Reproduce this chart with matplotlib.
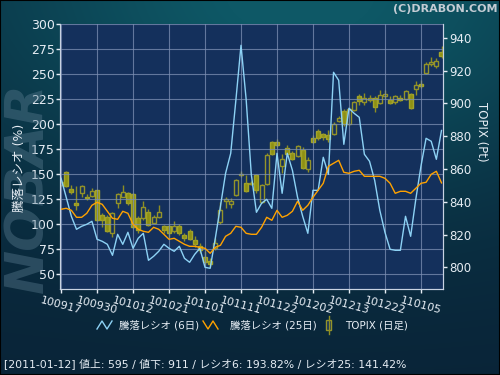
import numpy as np
import matplotlib
matplotlib.use('Agg')
import matplotlib.pyplot as plt
from matplotlib.lines import Line2D
from matplotlib.patches import Rectangle

plt.rcParams['font.family'] = ['DejaVu Sans', 'Noto Sans CJK JP']

# ---------------- data ----------------
tick_labels = ['100917', '100930', '101012', '101021', '101101', '101111',
               '101122', '101202', '101213', '101222', '110105']
tick_index = [0, 7, 14, 21, 28, 35, 42, 49, 56, 63, 70]

ratio6 = [146, 127, 108, 95, 98, 100, 103, 85, 83, 80, 69, 90, 80, 92, 76,
          86, 91, 64, 68, 73, 80, 76, 73, 78, 66, 62, 70, 76, 57, 56,
          86, 118, 151, 171, 224, 279, 225, 150, 112, 121, 125, 116, 171, 131, 171,
          154, 127, 108, 91, 134, 134, 167, 150, 252, 244, 180, 216, 211, 207, 170,
          163, 144, 114, 92, 75, 74, 74, 108, 88, 125, 158, 186, 183, 165, 193.82]

ratio25 = [115, 116, 114, 107, 107, 111, 119, 122, 120, 113, 106, 105, 113, 111, 100,
           95, 93, 92, 97, 95, 90, 85, 86, 83, 80, 78, 78, 77, 76, 71,
           77, 79, 88, 91, 98, 97, 91, 90, 90, 97, 107, 104, 114, 107, 109,
           113, 123, 114, 119, 127, 134, 141, 158, 161, 164, 152, 151, 153, 154, 148,
           148, 148, 148, 146, 141, 131, 133, 133, 131, 136, 141, 142, 150, 153, 141.42]

topix_open = [850.4, 858.3, 847.5, 839.0, 845.1, 843.1, 843.5, 846.9, 832.1, 830.4,
              820.7, 839.0, 843.1, 845.1, 844.7, 830.0, 830.0, 834.0, 827.3, 830.5,
              825.0, 825.0, 822.0, 825.0, 820.0, 822.3, 816.5, 813.3, 806.6, 804.0,
              811.5, 827.5, 840.6, 838.4, 844.1, 856.0, 851.7, 851.1, 856.1, 840.0,
              851.0, 876.7, 876.3, 861.5, 872.9, 869.8, 867.6, 871.7, 860.1, 878.9,
              883.0, 881.5, 880.4, 881.4, 889.1, 895.6, 887.1, 896.0, 904.2, 900.7,
              902.2, 903.2, 900.1, 904.2, 902.2, 900.7, 903.4, 902.4, 905.4, 908.9,
              911.5, 918.6, 923.7, 922.7, 931.6]
topix_high = [853.0, 859.0, 850.5, 849.6, 850.2, 845.0, 848.1, 847.3, 833.0, 832.0,
              834.0, 845.5, 850.2, 846.0, 845.5, 831.0, 840.5, 835.5, 832.0, 838.0,
              826.0, 826.0, 828.0, 826.5, 821.0, 823.5, 819.0, 815.0, 810.0, 805.5,
              818.0, 840.0, 843.0, 842.0, 853.6, 858.5, 856.5, 852.5, 857.0, 851.0,
              869.6, 877.3, 878.3, 869.2, 874.3, 871.2, 874.3, 873.3, 867.2, 880.4,
              884.6, 882.0, 883.5, 888.6, 892.5, 896.6, 897.6, 901.7, 905.8, 906.6,
              904.8, 904.2, 908.3, 908.3, 904.2, 905.0, 905.0, 908.0, 906.5, 913.5,
              914.5, 925.0, 928.0, 927.5, 935.0]
topix_low = [849.5, 849.0, 845.0, 835.0, 842.7, 841.0, 843.0, 828.2, 824.7, 821.7,
             818.3, 836.0, 842.7, 838.0, 824.0, 821.0, 829.0, 825.0, 827.0, 830.0,
             821.0, 818.5, 821.0, 819.5, 816.0, 816.5, 812.5, 808.5, 801.5, 800.3,
             810.5, 826.5, 836.0, 836.0, 843.5, 855.0, 846.0, 850.5, 845.5, 839.5,
             850.0, 868.2, 873.2, 857.8, 868.2, 865.2, 867.0, 860.1, 858.0, 875.9,
             877.8, 877.5, 876.4, 880.6, 888.7, 886.3, 886.5, 895.6, 899.2, 899.2,
             900.9, 894.7, 899.4, 902.8, 899.4, 899.5, 901.5, 901.8, 896.8, 905.0,
             909.5, 918.0, 922.5, 921.8, 927.5]
topix_close = [852.2, 849.6, 846.1, 837.9, 849.6, 842.3, 846.5, 828.6, 829.0, 822.3,
               832.9, 844.5, 845.7, 839.4, 824.8, 823.0, 837.0, 826.0, 830.5, 833.5,
               822.5, 821.0, 825.0, 821.0, 818.0, 817.0, 814.3, 810.5, 803.5, 801.8,
               815.0, 835.0, 841.9, 840.4, 853.2, 857.0, 846.8, 851.7, 847.2, 850.0,
               868.8, 869.2, 874.7, 866.2, 869.2, 866.2, 873.7, 860.7, 865.6, 876.5,
               879.0, 879.5, 878.4, 887.5, 891.1, 887.1, 896.6, 901.1, 901.3, 903.2,
               903.4, 897.7, 904.8, 905.8, 900.5, 904.2, 902.2, 907.3, 897.3, 911.3,
               910.7, 923.7, 925.1, 926.1, 928.8]

legend_labels = ['騰落レシオ (6日)', '騰落レシオ (25日)', 'TOPIX (日足)']
status_text = '[2011-01-12] 値上: 595 / 値下: 911 / レシオ6: 193.82% / レシオ25: 141.42%'

# ---------------- figure ----------------
W, H = 500, 375
fig = plt.figure(figsize=(5, 3.75), dpi=100)

# background gradient
yy, xx = np.mgrid[0:H, 0:W].astype(float)
top = np.array([14, 88, 102]) / 255.0
bot = np.array([9, 36, 56]) / 255.0
w = 0.85 * np.exp(-(((xx - 300) / 300.0) ** 2 + (yy / 190.0) ** 2)) + 0.2 * (1 - yy / H)
w = np.clip(w, 0, 1)[..., None]
img = bot + (top - bot) * w
bgax = fig.add_axes([0, 0, 1, 1])
bgax.imshow(img, aspect='auto', extent=[0, 1, 0, 1], origin='upper')
bgax.axis('off')
bgax.set_zorder(-5)

# watermark
fig.text(28 / W, 1 - 188 / H, 'NOBAR', rotation=90, fontsize=38, style='italic',
         weight='bold', color='#5d7f93', alpha=0.4, ha='center', va='center')

L, R, T, B = 60.3, 443.3, 24.3, 289.3
rect = [L / W, 1 - B / H, (R - L) / W, (B - T) / H]
ax = fig.add_axes(rect)
ax2 = ax.twinx()
ax.set_zorder(ax2.get_zorder() + 1)
ax.patch.set_visible(False)
ax2.patch.set_visible(True)
ax2.patch.set_facecolor('#14305c')

x = np.arange(len(ratio6))
o = np.array(topix_open); h = np.array(topix_high)
l = np.array(topix_low); c = np.array(topix_close)
up = c >= o
btm = np.minimum(o, c)
tp = np.maximum(o, c)
hgt = np.maximum(tp - btm, 0.5)

wick_col = '#8e8e22'
ax2.vlines(x, tp, h, color=wick_col, lw=1.0)
ax2.vlines(x, l, btm, color=wick_col, lw=1.0)
ax2.bar(x[up], hgt[up], bottom=btm[up], width=0.78, facecolor='none',
        edgecolor='#94942a', linewidth=1.0)
ax2.bar(x[~up], hgt[~up], bottom=btm[~up], width=0.78, facecolor='#96960f',
        edgecolor='#a8a82a', linewidth=1.0, alpha=0.95)

ax.plot(x, ratio6, color='#8dd2f5', lw=1.0)
ax.plot(x, ratio25, color='#ffa200', lw=1.0)

ax.set_xlim(-0.15, 74.35)
ax.set_ylim(35, 300)
ax2.set_ylim(786.6, 948.2)
ax.set_yticks(range(50, 301, 25))
ax2.set_yticks(range(800, 941, 20))
ax.set_xticks(tick_index)
ax.set_xticklabels(tick_labels, rotation=-15, ha='center')

ax.grid(True, color='#7d90b4', lw=0.8, alpha=0.75)

tc = '#e6edf4'
ax.tick_params(axis='y', colors=tc, labelsize=9, length=3, width=1, pad=1)
ax.tick_params(axis='x', colors=tc, labelsize=8, length=3, width=1, pad=1)
ax2.tick_params(axis='y', colors=tc, labelsize=8.5, length=3, width=1, pad=1)
for a in (ax, ax2):
    for s in ('left', 'bottom', 'right'):
        a.spines[s].set_color('#c8d2e2')
    a.spines['top'].set_visible(False)

fig.text(19 / W, 1 - 168 / H, '騰落レシオ (%)', rotation=90, fontsize=9,
         color=tc, ha='center', va='center')
fig.text(481.7 / W, 1 - 132 / H, 'TOPIX (Pt)', rotation=-90, fontsize=8.5,
         color=tc, ha='center', va='center')

# legend (drawn manually in figure pixel space)
def fx(px):
    return px / W

def fy(py):
    return 1 - py / H

ly = 325
fig.add_artist(Line2D([fx(97), fx(102), fx(107), fx(112)],
                      [fy(ly + 4), fy(ly - 4), fy(ly + 4), fy(ly - 4)],
                      color='#8dd2f5', lw=1.0))
fig.text(fx(119), fy(ly), legend_labels[0], fontsize=7.5, color=tc, va='center')
fig.add_artist(Line2D([fx(203), fx(208), fx(213), fx(218)],
                      [fy(ly - 4), fy(ly + 4), fy(ly - 4), fy(ly + 4)],
                      color='#ffa200', lw=1.0))
fig.text(fx(230), fy(ly), legend_labels[1], fontsize=7.5, color=tc, va='center')
fig.add_artist(Line2D([fx(328.5), fx(328.5)], [fy(ly - 9), fy(ly + 9)],
                      color=wick_col, lw=1.0))
fig.add_artist(Rectangle((fx(326), fy(ly + 5)), fx(5), 10 / H, facecolor='#14305c',
                         edgecolor='#94942a', lw=1.0))
fig.text(fx(345), fy(ly), legend_labels[2], fontsize=7.5, color=tc, va='center')

fig.text(fx(4), fy(364), status_text, fontsize=7.8, color=tc, va='center')
fig.text(fx(497), fy(8.5), '(C)DRABON.COM', fontsize=8, weight='bold',
         color='#c4ccd4', ha='right', va='center')

fig.add_artist(Rectangle((0, 0), 1, 1, facecolor='none', edgecolor='black',
                         lw=1.5, transform=fig.transFigure))

fig.savefig('out.png', dpi=100)
